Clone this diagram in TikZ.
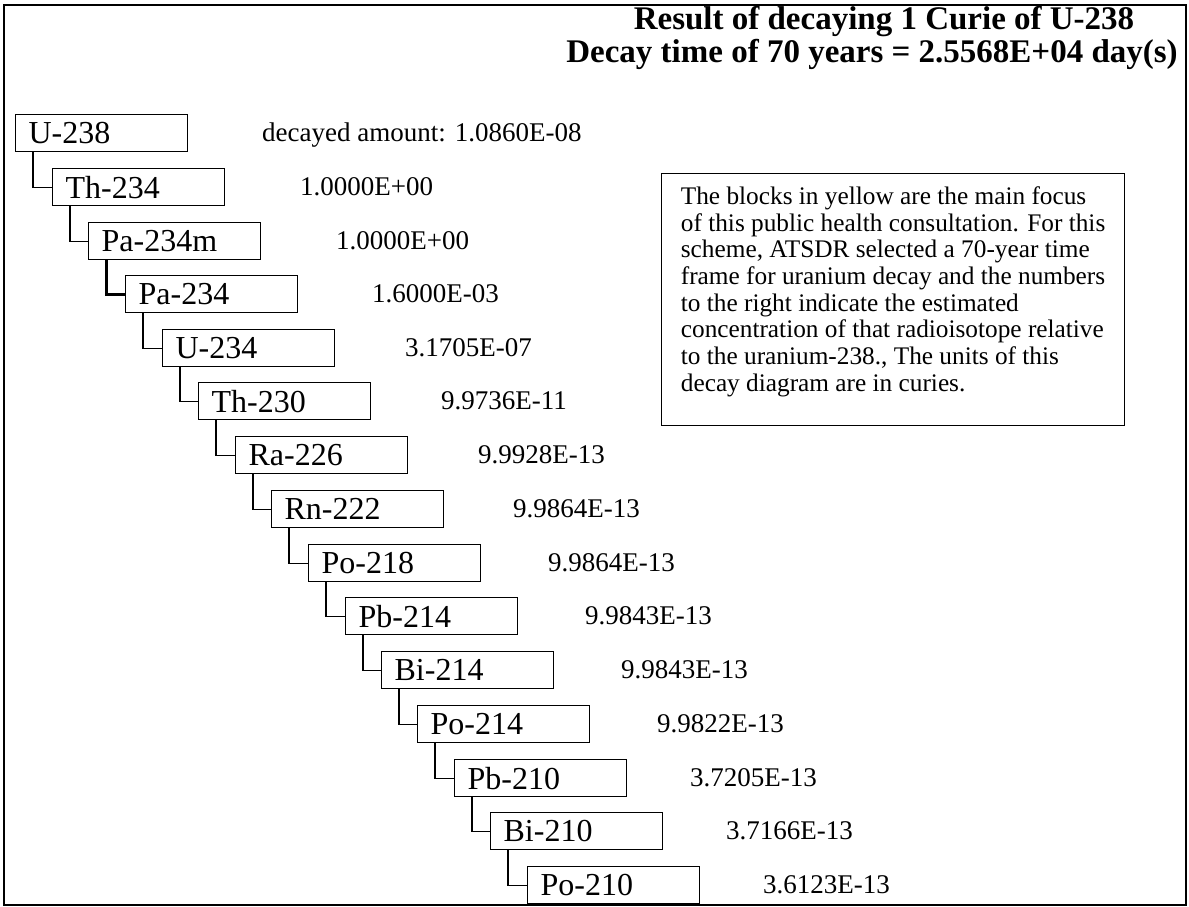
\documentclass[tikz,border=0pt]{standalone}
\usepackage{fontspec}
\setmainfont{Liberation Serif}
\usetikzlibrary{positioning}

\tikzset{
  iso/.style={draw, line width=1.2pt, anchor=north west, minimum height=37pt,
    inner xsep=13pt, inner ysep=0pt, text width=146pt, align=left,
    font=\fontsize{32}{36}\selectfont},
  amount/.style={anchor=west, inner sep=0pt, text height=18pt, text depth=0pt,
    font=\fontsize{27}{32}\selectfont},
  head/.style={anchor=base, inner sep=0pt, font=\bfseries\fontsize{33}{36}\selectfont},
  note/.style={draw, line width=1.2pt, anchor=north west, align=left,
    minimum width=463pt, inner xsep=19pt, inner ysep=13pt, text depth=21pt,
    font=\fontsize{25.3}{26.7}\selectfont},
  link/.style={line width=1.2pt},
}

\begin{document}
\begin{tikzpicture}[x=1pt, y=-1pt]
\useasboundingbox (0,0) rectangle (1189,907);
\draw[line width=2pt] (4,5) rectangle (1186,905);

\node[head] (head1) at (884,30) {Result of decaying 1 Curie of U-238};
\node[head] (head2) at (872,63) {Decay time of 70 years = 2.5568E+04 day(s)};

\node[iso] (U238) at (15,114) {U-238};
\node[iso] (Th234) at (52,168) {Th-234};
\node[iso] (Pa234m) at (88,222) {Pa-234m};
\node[iso] (Pa234) at (125,275) {Pa-234};
\node[iso] (U234) at (162,329) {U-234};
\node[iso] (Th230) at (198,382) {Th-230};
\node[iso] (Ra226) at (235,436) {Ra-226};
\node[iso] (Rn222) at (271,490) {Rn-222};
\node[iso] (Po218) at (308,544) {Po-218};
\node[iso] (Pb214) at (345,597) {Pb-214};
\node[iso] (Bi214) at (381,651) {Bi-214};
\node[iso] (Po214) at (417,705) {Po-214};
\node[iso] (Pb210) at (454,759) {Pb-210};
\node[iso] (Bi210) at (490,812) {Bi-210};
\node[iso] (Po210) at (527,866) {Po-210};

\node[amount] (aU238) at (262,132.5) {decayed amount: 1.0860E-08};
\node[amount] (aTh234) at (300,186.5) {1.0000E+00};
\node[amount] (aPa234m) at (336,240.5) {1.0000E+00};
\node[amount] (aPa234) at (372,293.5) {1.6000E-03};
\node[amount] (aU234) at (405,347.5) {3.1705E-07};
\node[amount] (aTh230) at (441,400.5) {9.9736E-11};
\node[amount] (aRa226) at (478,454.5) {9.9928E-13};
\node[amount] (aRn222) at (513,508.5) {9.9864E-13};
\node[amount] (aPo218) at (548,562.5) {9.9864E-13};
\node[amount] (aPb214) at (585,615.5) {9.9843E-13};
\node[amount] (aBi214) at (621,669.5) {9.9843E-13};
\node[amount] (aPo214) at (657,723.5) {9.9822E-13};
\node[amount] (aPb210) at (690,777.5) {3.7205E-13};
\node[amount] (aBi210) at (726,830.5) {3.7166E-13};
\node[amount] (aPo210) at (763,884.5) {3.6123E-13};

\draw[link] ([xshift=18pt]U238.south west) |- (Th234.west);
\draw[link] ([xshift=18pt]Th234.south west) |- (Pa234m.west);
\draw[line width=3pt] ([xshift=18pt]Pa234m.south west) |- (Pa234.west);
\draw[link] ([xshift=18pt]Pa234.south west) |- (U234.west);
\draw[link] ([xshift=18pt]U234.south west) |- (Th230.west);
\draw[link] ([xshift=18pt]Th230.south west) |- (Ra226.west);
\draw[link] ([xshift=18pt]Ra226.south west) |- (Rn222.west);
\draw[link] ([xshift=18pt]Rn222.south west) |- (Po218.west);
\draw[link] ([xshift=18pt]Po218.south west) |- (Pb214.west);
\draw[link] ([xshift=18pt]Pb214.south west) |- (Bi214.west);
\draw[link] ([xshift=18pt]Bi214.south west) |- (Po214.west);
\draw[link] ([xshift=18pt]Po214.south west) |- (Pb210.west);
\draw[link] ([xshift=18pt]Pb210.south west) |- (Bi210.west);
\draw[link] ([xshift=18pt]Bi210.south west) |- (Po210.west);

\node[note] (info) at (661,173) {The blocks in yellow are the main focus\\
of this public health consultation. For this\\
scheme, ATSDR selected a 70-year time\\
frame for uranium decay and the numbers\\
to the right indicate the estimated\\
concentration of that radioisotope relative\\
to the uranium-238., The units of this\\
decay diagram are in curies.};
\end{tikzpicture}
\end{document}
